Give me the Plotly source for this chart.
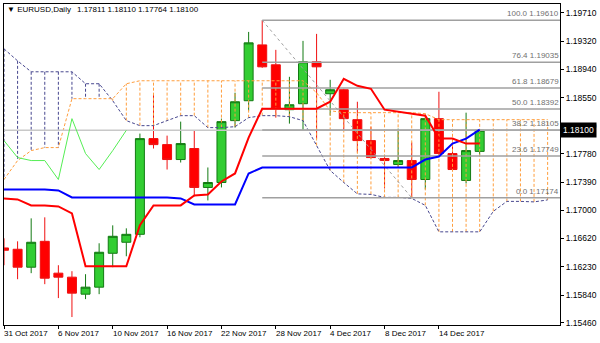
import plotly.graph_objects as go

# ---------------- data ----------------
bar_dates = ['31 Oct 2017', '1 Nov 2017', '2 Nov 2017', '3 Nov 2017', '6 Nov 2017', '7 Nov 2017',
             '8 Nov 2017', '9 Nov 2017', '10 Nov 2017', '13 Nov 2017', '14 Nov 2017', '15 Nov 2017',
             '16 Nov 2017', '17 Nov 2017', '20 Nov 2017', '21 Nov 2017', '22 Nov 2017', '23 Nov 2017',
             '24 Nov 2017', '27 Nov 2017', '28 Nov 2017', '29 Nov 2017', '30 Nov 2017', '1 Dec 2017',
             '4 Dec 2017', '5 Dec 2017', '6 Dec 2017', '7 Dec 2017', '8 Dec 2017', '11 Dec 2017',
             '12 Dec 2017', '13 Dec 2017', '14 Dec 2017', '15 Dec 2017', '18 Dec 2017', '19 Dec 2017']

opens = [1.16486, 1.16468, 1.16222, 1.16577, 1.16140, 1.16085, 1.15852, 1.15948, 1.16413, 1.16564,
         1.16673, 1.17986, 1.17904, 1.17699, 1.17850, 1.17316, 1.17384, 1.18233, 1.18506, 1.19272,
         1.18999, 1.18383, 1.18465, 1.19040, 1.18602, 1.18657, 1.18246, 1.17959, 1.17713, 1.17631,
         1.17685, 1.17425, 1.18260, 1.17781, 1.17412, 1.17811]
highs = [1.16618, 1.16577, 1.16892, 1.16906, 1.16249, 1.16167, 1.16126, 1.16550, 1.16796, 1.16755,
         1.18055, 1.18602, 1.18027, 1.18219, 1.18096, 1.17590, 1.18260, 1.18616, 1.19450, 1.19610,
         1.19204, 1.18834, 1.19327, 1.19423, 1.18793, 1.18670, 1.18492, 1.18150, 1.17754, 1.18123,
         1.17932, 1.18301, 1.18629, 1.17932, 1.18342, 1.18110]
lows = [1.16249, 1.16057, 1.16140, 1.15989, 1.15798, 1.15538, 1.15784, 1.15852, 1.16222, 1.16372,
        1.16632, 1.17850, 1.17562, 1.17658, 1.17193, 1.17138, 1.17316, 1.18137, 1.18369, 1.18958,
        1.18274, 1.18192, 1.18096, 1.17986, 1.18301, 1.18096, 1.17795, 1.17713, 1.17302, 1.17590,
        1.17174, 1.17289, 1.17754, 1.17549, 1.17371, 1.17764]
closes = [1.16454, 1.16222, 1.16564, 1.16071, 1.16085, 1.15866, 1.15948, 1.16427, 1.16646, 1.16673,
          1.17986, 1.17904, 1.17699, 1.17918, 1.17316, 1.17384, 1.18219, 1.18492, 1.19300, 1.18971,
          1.18397, 1.18451, 1.19040, 1.18971, 1.18657, 1.18260, 1.17959, 1.17726, 1.17685, 1.17685,
          1.17425, 1.18260, 1.17781, 1.17562, 1.17822, 1.18100]

tenkan = [1.17166, 1.17152, 1.17070, 1.17070, 1.17056, 1.16960, 1.16235, 1.16235, 1.16235, 1.16235,
          1.16797, 1.17070, 1.17070, 1.17070, 1.17207, 1.17220, 1.17398, 1.17508, 1.18000, 1.18397,
          1.18397, 1.18397, 1.18397, 1.18397, 1.18492, 1.18807, 1.18711, 1.18670, 1.18383, 1.18356,
          1.18328, 1.18301, 1.17986, 1.17986, 1.17918, 1.17918]
kijun = [1.17289, 1.17289, 1.17289, 1.17289, 1.17275, 1.17179, 1.17179, 1.17179, 1.17179, 1.17179,
         1.17179, 1.17179, 1.17179, 1.17166, 1.17083, 1.17083, 1.17083, 1.17083, 1.17508, 1.17590,
         1.17590, 1.17590, 1.17590, 1.17590, 1.17590, 1.17590, 1.17590, 1.17590, 1.17590, 1.17590,
         1.17590, 1.17699, 1.17740, 1.17918, 1.17986, 1.18109]
# cloud lines (extend 5 bars past the last candle)
span_a = [1.19218, 1.19053, 1.18903, 1.18903, 1.18903, 1.18903, 1.18739, 1.18739, 1.18506, 1.18233,
          1.18164, 1.18164, 1.18233, 1.18301, 1.18301, 1.18137, 1.18137, 1.18150, 1.18274, 1.18301,
          1.18301, 1.18287, 1.18233, 1.17891, 1.17549, 1.17384, 1.17228, 1.17221, 1.17180, 1.17180,
          1.17166, 1.17070, 1.16707, 1.16707, 1.16707, 1.16707, 1.16988, 1.17125, 1.17125, 1.17118,
          1.17145]
span_b = [1.17425, 1.17685, 1.17822, 1.17863, 1.17863, 1.18534, 1.18534, 1.18534, 1.18534, 1.18739,
          1.18780, 1.18780, 1.18780, 1.18780, 1.18780, 1.18780, 1.18780, 1.18780, 1.18780, 1.18780,
          1.18780, 1.18780, 1.18780, 1.18616, 1.18369, 1.18342, 1.18342, 1.18342, 1.18342, 1.18342,
          1.18342, 1.18328, 1.18246, 1.18246, 1.18246, 1.18246, 1.18246, 1.18246, 1.18246, 1.18246,
          1.18246]
chikou_shift = 26

fib_levels = ['100.0', '76.4', '61.8', '50.0', '38.2', '23.6', '0.0']
fib_prices = [1.19610, 1.19035, 1.18679, 1.18392, 1.18105, 1.17749, 1.17174]
fib_start_bar = 19
fib_end_bar = 30

ytick_vals = [1.19710, 1.19320, 1.18940, 1.18550, 1.18160, 1.17780, 1.17390, 1.17000,
              1.16620, 1.16230, 1.15840, 1.15460]
date_tick_step = 4
title_text = 'EURUSD,Daily'

# ---------------- figure ----------------
FONT = 'Liberation Sans'
C_A = '#47478F'
C_B = '#FF9E3D'
x_max = 40.91
bars = list(range(len(bar_dates)))
span_x = list(range(len(span_a)))

fig = go.Figure()

# cloud hatching
for col, cond in ((C_A, lambda a, b: a >= b), (C_B, lambda a, b: b > a)):
    hx, hy = [], []
    for i, (a, b) in enumerate(zip(span_a, span_b)):
        if cond(a, b):
            hx += [i, i, None]
            hy += [a, b, None]
    fig.add_trace(go.Scatter(x=hx, y=hy, mode='lines', line=dict(color=col, width=1, dash='3px,2px'),
                             hoverinfo='skip'))

fig.add_trace(go.Scatter(x=span_x, y=span_a, mode='lines', line=dict(color=C_A, width=1, dash='3px,2px')))
fig.add_trace(go.Scatter(x=span_x, y=span_b, mode='lines', line=dict(color=C_B, width=1, dash='3px,2px')))

# bid line
fig.add_trace(go.Scatter(x=[-1, x_max + 1], y=[closes[-1]] * 2, mode='lines',
                         line=dict(color='#C8C8C8', width=1.5)))

# fibonacci
for lvl, p in zip(fib_levels, fib_prices):
    fig.add_trace(go.Scatter(x=[fib_start_bar, x_max + 1], y=[p, p], mode='lines',
                             line=dict(color='#A0A0A0', width=1.5)))
    fig.add_annotation(xref='paper', x=1, xanchor='right', xshift=1, y=p, yref='y', yanchor='bottom',
                       yshift=0, text=f'{lvl} {p:.5f}', showarrow=False,
                       font=dict(family=FONT, size=8, color='#707070'))
fig.add_trace(go.Scatter(x=[fib_start_bar, fib_end_bar], y=[fib_prices[0], fib_prices[-1]], mode='lines',
                         line=dict(color='#A0A0A0', width=1, dash='3px,3px')))

# ichimoku lines
fig.add_trace(go.Scatter(x=bars, y=kijun, mode='lines', line=dict(color='#0000FF', width=2)))
fig.add_trace(go.Scatter(x=bars, y=tenkan, mode='lines', line=dict(color='#FF0000', width=2)))
chik = closes[chikou_shift:]
fig.add_trace(go.Scatter(x=bars[:len(chik)], y=chik, mode='lines', line=dict(color='#55EE55', width=1)))

# candles
fig.add_trace(go.Candlestick(x=bars, open=opens, high=highs, low=lows, close=closes,
                             increasing=dict(line=dict(color='#137A13', width=1), fillcolor='#32CD32'),
                             decreasing=dict(line=dict(color='#F01010', width=1), fillcolor='#FF0000'),
                             whiskerwidth=0))

# price box
fig.add_annotation(xref='paper', x=1, xanchor='left', xshift=0, y=closes[-1], yref='y', yanchor='middle',
                   text=f'{closes[-1]:.5f}', showarrow=False, bgcolor='black', borderpad=2,
                   font=dict(family=FONT, size=8.5, color='white'))

# title
fig.add_annotation(xref='paper', x=(4 - 3) / 560, xanchor='left', yref='paper', y=(325 - 9) / 322,
                   yanchor='middle', text='\u25BC ' + title_text, showarrow=False,
                   font=dict(family=FONT, size=8, color='black'))
fig.add_annotation(xref='paper', x=(75 - 3) / 560, xanchor='left', yref='paper', y=(325 - 9) / 322,
                   yanchor='middle',
                   text=' '.join(f'{v:.5f}' for v in (opens[-1], highs[-1], lows[-1], closes[-1])),
                   showarrow=False, font=dict(family=FONT, size=8, color='black'))

# date labels
tick_idx = bars[::date_tick_step]
for k in tick_idx:
    fig.add_annotation(x=k, xref='x', y=0, yref='paper', yanchor='top', xanchor='left', xshift=-2,
                       yshift=-2, text=bar_dates[k], showarrow=False,
                       font=dict(family=FONT, size=8, color='black'))

fig.update_layout(width=600, height=343, margin=dict(l=3, r=37, t=3, b=18),
                  paper_bgcolor='white', plot_bgcolor='white', showlegend=False,
                  boxgap=0.34, boxgroupgap=0, hovermode=False)
fig.update_xaxes(range=[0, x_max], showgrid=False, zeroline=False, showline=True, linecolor='black',
                 linewidth=1, mirror=True, ticks='outside', ticklen=3, tickcolor='black',
                 tickvals=tick_idx, showticklabels=False, rangeslider_visible=False)
fig.update_yaxes(side='right', range=[1.154288, 1.198331], tickvals=ytick_vals, tickformat='.5f',
                 ticks='outside', ticklen=3, tickcolor='black', showgrid=False, zeroline=False,
                 showline=True, mirror=True, linecolor='black', linewidth=1,
                 tickfont=dict(family=FONT, size=8.5, color='black'))

fig.write_html('out.html')
